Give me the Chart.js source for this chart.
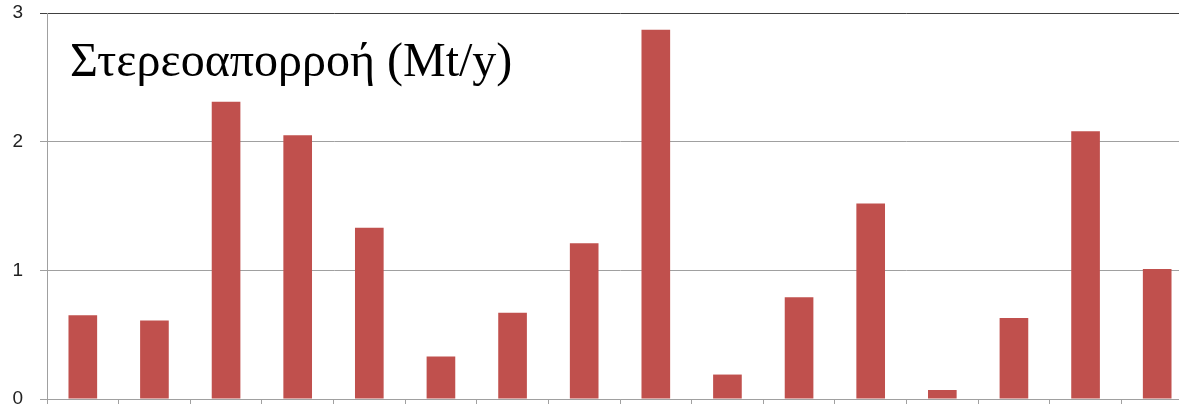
<!DOCTYPE html>
<html>
<head>
<meta charset="utf-8">
<script src="https://cdn.jsdelivr.net/npm/chart.js@4.4.1/dist/chart.umd.min.js"></script>
<style>
  html, body { margin: 0; padding: 0; background: #ffffff; overflow: hidden; }
  #wrap { position: relative; width: 1179px; height: 404px; overflow: hidden; }
  #c { position: absolute; left: 0; top: 0; }
  #title { position: absolute; left: 70px; top: 36px; font-family: "Liberation Serif", "DejaVu Serif", serif;
           font-size: 48px; line-height: 48px; color: #000; white-space: nowrap; }
</style>
</head>
<body>
<div id="wrap">
  <canvas id="c" width="1200" height="404"></canvas>
  <div id="title">Στερεοαπορροή (Mt/y)</div>
</div>
<script>
const categories = ["1","2","3","4","5","6","7","8","9","10","11","12","13","14","15","16"];
const sedimentLoad = [0.65, 0.61, 2.31, 2.05, 1.33, 0.33, 0.67, 1.21, 2.87, 0.19, 0.79, 1.52, 0.07, 0.63, 2.08, 1.01];
const yTicks = [0, 1, 2, 3];

new Chart(document.getElementById('c'), {
  type: 'bar',
  data: {
    labels: categories,
    datasets: [{
      data: sedimentLoad,
      backgroundColor: '#C0504D',
      borderWidth: 0,
      barPercentage: 0.4,
      categoryPercentage: 1.0
    }]
  },
  options: {
    responsive: false,
    animation: false,
    layout: { padding: { left: 0, right: 7, top: 13, bottom: 0 } },
    plugins: { legend: { display: false }, tooltip: { enabled: false } },
    scales: {
      x: {
        offset: true,
        afterFit: (s) => { s.height = 5; s.paddingLeft = 0; s.paddingRight = 0; s.paddingTop = 0; s.paddingBottom = 0; },
        grid: { display: true, drawOnChartArea: false, drawTicks: true, tickLength: 5, color: '#a0a0a0', offset: true },
        border: { display: true, color: '#a0a0a0', width: 1 },
        ticks: { display: false }
      },
      y: {
        min: 0, max: 3,
        afterBuildTicks: (s) => { s.ticks = yTicks.map(v => ({ value: v })); },
        afterFit: (s) => { s.width = 47; s.paddingTop = 0; s.paddingBottom = 0; s.paddingLeft = 0; s.paddingRight = 0; },
        grid: {
          color: (ctx) => (ctx.tick && ctx.tick.value === 3) ? '#404040' : '#a0a0a0',
          tickLength: 7,
          lineWidth: 1
        },
        border: { display: true, color: '#a0a0a0', width: 1 },
        ticks: {
          padding: 17,
          color: '#222222',
          font: { family: '"Liberation Sans", Arial, sans-serif', size: 19 }
        }
      }
    }
  }
});
</script>
</body>
</html>
